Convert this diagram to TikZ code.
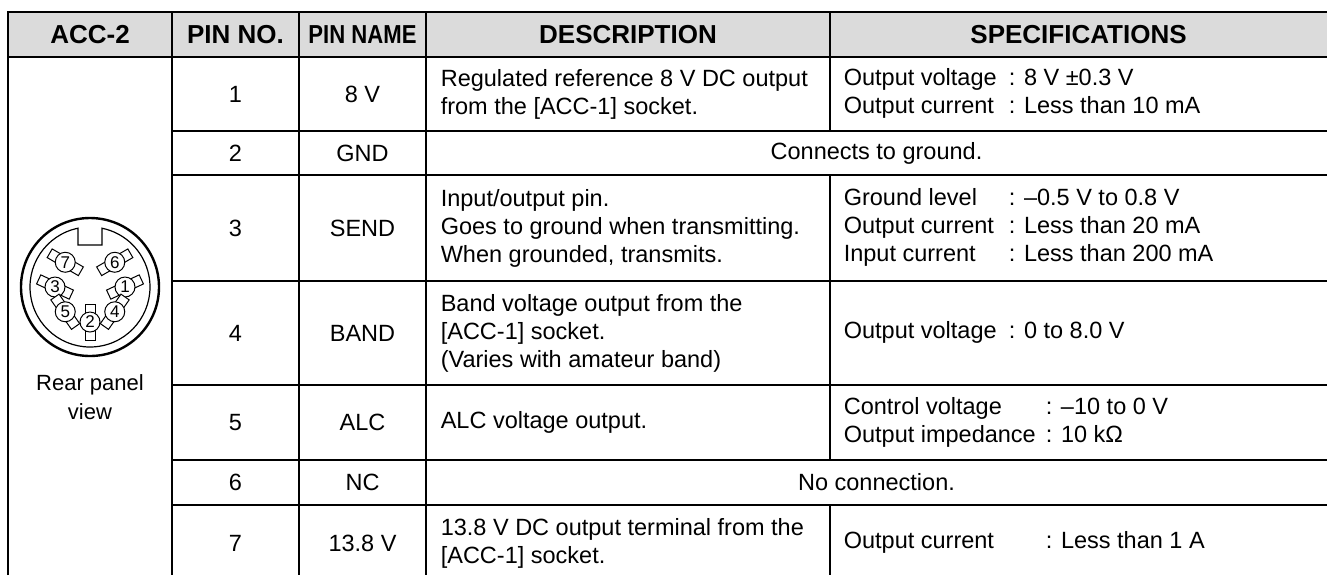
\documentclass[tikz,border=0pt]{standalone}
\usepackage{fontspec}
\setmainfont{Liberation Sans}
\newfontfamily\narrowfont{Liberation Sans}[FakeStretch=0.85]
\begin{document}
\begin{tikzpicture}[x=0.5pt, y=-0.5pt, line width=0.8pt,
  head/.style={font=\fontsize{13}{15}\selectfont\bfseries},
  cell/.style={font=\fontsize{11.75}{14}\selectfont, align=center, inner sep=0pt},
  left cell/.style={cell, anchor=west, align=left},
  pin/.style={circle, draw, fill=white, line width=0.5pt, inner sep=0pt, minimum size=10pt, font=\fontsize{8.5}{8.5}\selectfont}]

  \useasboundingbox (0,0) rectangle (1327,575);

  % Header
  \fill[black!14] (8,12) rectangle (1327,57);
  \node[head] (H1) at (90,34.5) {ACC-2};
  \node[head] (H2) at (235.5,34.5) {PIN NO.};
  \node[head, font=\narrowfont\fontsize{13}{15}\selectfont\bfseries] (H3) at (362.5,34.5) {PIN NAME};
  \node[head] (H4) at (628,34.5) {DESCRIPTION};
  \node[head] (H5) at (1078.5,34.5) {SPECIFICATIONS};

  % Grid
  \draw (8,575) -- (8,12) -- (1327,12);
  \draw (8,57) -- (1327,57);
  \foreach \x in {172,299,426} \draw (\x,12) -- (\x,575);
  \foreach \y in {131,175,281,385,460,505} \draw (172,\y) -- (1327,\y);
  \draw (830,12) -- (830,131);
  \draw (830,175) -- (830,460);
  \draw (830,505) -- (830,575);

  % Socket
  \coordinate (SOC) at (90,287);
  \begin{scope}[shift={(SOC)}]
    \draw[line width=1.2pt] (0,0) circle (69);
    \draw[line width=0.6pt] (-12,-42) -- (-12,-58.79) arc[start angle=-101.54, end angle=-438.46, radius=60] -- (12,-42) -- cycle;
    \foreach \n/\a/\b in {1/0/-25, 6/45/-30, 7/135/30, 3/180/25, 5/225/55, 2/270/90, 4/315/-55} {
      \draw[line width=0.5pt, fill=white, shift={({-\a}:35)}, rotate={-\b}] (-18,-5) rectangle (18,5);
      \node[pin] (P\n) at ({-\a}:35) {\n};
    }
  \end{scope}
  \node[cell, font=\fontsize{11}{14.5}\selectfont] (RPV) at (90,397) {Rear panel\\view};

  % Pin numbers and names
  \node[cell] (N1) at (235.5,94) {1};
  \node[cell] (M1) at (362.5,94) {8 V};
  \node[cell] (N2) at (235.5,153) {2};
  \node[cell] (M2) at (362.5,153) {GND};
  \node[cell] (N3) at (235.5,228) {3};
  \node[cell] (M3) at (362.5,228) {SEND};
  \node[cell] (N4) at (235.5,333) {4};
  \node[cell] (M4) at (362.5,333) {BAND};
  \node[cell] (N5) at (235.5,422.5) {5};
  \node[cell] (M5) at (362.5,422.5) {ALC};
  \node[cell] (N6) at (235.5,482.5) {6};
  \node[cell] (M6) at (362.5,482.5) {NC};
  \node[cell] (N7) at (235.5,543) {7};
  \node[cell] (M7) at (362.5,543) {13.8 V};

  % Descriptions
  \node[left cell] (D1) at (440,94) {Regulated reference 8 V DC output\\from the [ACC-1] socket.};
  \node[cell] (D2) at (876.5,153) {Connects to ground.};
  \node[left cell] (D3) at (440,228) {Input/output pin.\\Goes to ground when transmitting.\\When grounded, transmits.};
  \node[left cell] (D4) at (440,333) {Band voltage output from the\\{[ACC-1]} socket.\\(Varies with amateur band)};
  \node[left cell] (D5) at (440,422.5) {ALC voltage output.};
  \node[cell] (D6) at (876.5,482.5) {No connection.};
  \node[left cell] (D7) at (440,543) {13.8 V DC output terminal from the\\{[ACC-1]} socket.};

  % Specifications
  \node[left cell] (S1) at (843,94) {\begin{tabular}{@{}p{82.5pt}@{}l@{}}Output voltage & : 8 V ±0.3 V\\Output current & : Less than 10 mA\end{tabular}};
  \node[left cell] (S3) at (843,228) {\begin{tabular}{@{}p{82.5pt}@{}l@{}}Ground level & : –0.5 V to 0.8 V\\Output current & : Less than 20 mA\\Input current & : Less than 200 mA\end{tabular}};
  \node[left cell] (S4) at (843,333) {\begin{tabular}{@{}p{82.5pt}@{}l@{}}Output voltage & : 0 to 8.0 V\end{tabular}};
  \node[left cell] (S5) at (843,422.5) {\begin{tabular}{@{}p{101pt}@{}l@{}}Control voltage & : –10 to 0 V\\Output impedance & : 10 kΩ\end{tabular}};
  \node[left cell] (S7) at (843,543) {\begin{tabular}{@{}p{101pt}@{}l@{}}Output current & : Less than 1 A\end{tabular}};

\end{tikzpicture}
\end{document}
